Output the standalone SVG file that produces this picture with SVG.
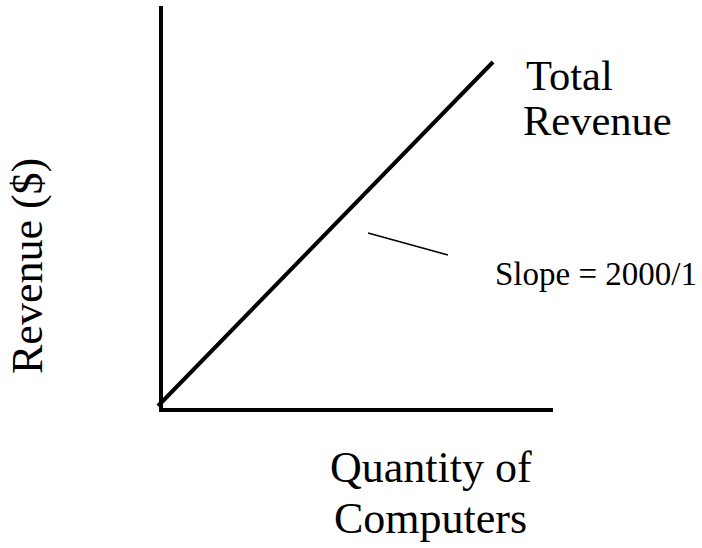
<svg xmlns="http://www.w3.org/2000/svg" width="702" height="548" viewBox="0 0 702 548">
<style>
.ax{stroke:#000;stroke-width:4;fill:none}
.thin{stroke:#000;stroke-width:1.5;fill:none}
.t{font-family:"Liberation Serif","Times New Roman",serif;fill:#000}
</style>
<rect width="702" height="548" fill="#fff"/>
<g id="connectors">
<line class="ax" x1="161" y1="6" x2="161" y2="412"/>
<line class="ax" x1="159" y1="410" x2="553" y2="410"/>
<line class="ax" x1="158" y1="406" x2="493" y2="62"/>
<line class="thin" x1="368" y1="233" x2="448" y2="255"/>
</g>
<g id="total-revenue"><text class="t" font-size="42.5" x="526" y="90">Total</text><text class="t" font-size="42.5" x="523" y="135">Revenue</text></g>
<g id="slope"><text class="t" font-size="33" x="495" y="285">Slope = 2000/1</text></g>
<g id="y-label"><text class="t" font-size="44" transform="translate(42,374) rotate(-90)">Revenue ($)</text></g>
<g id="x-label"><text class="t" font-size="44" x="330" y="482">Quantity of</text><text class="t" font-size="44" x="334" y="533">Computers</text></g>
</svg>
